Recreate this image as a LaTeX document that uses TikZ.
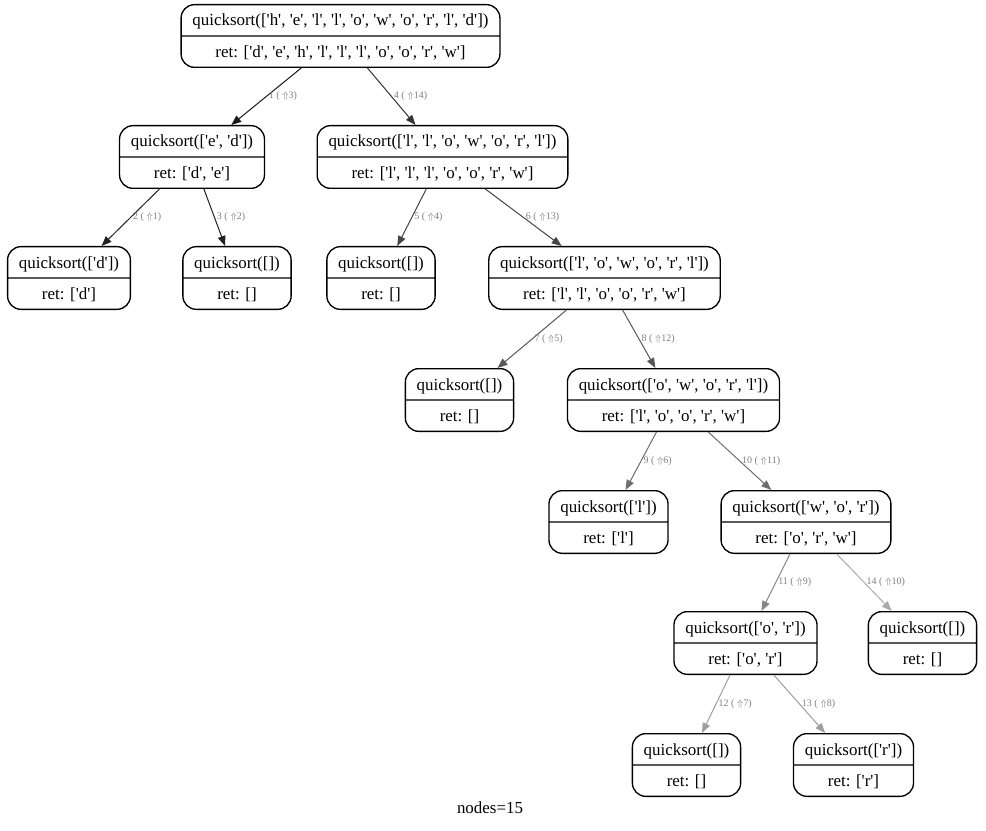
\documentclass[tikz,border=0pt]{standalone}
\usepackage{fontspec}
\setmainfont{Liberation Serif}[Ligatures=TeXOff]
\usetikzlibrary{arrows.meta,shapes.multipart}
\definecolor{lblgray}{HTML}{808080}
\tikzset{
  call/.style={
    rectangle split,rectangle split parts=2,draw=black,line width=1pt,
    rounded corners=10pt,inner xsep=8.5pt,inner ysep=0pt,
    font=\fontsize{12.7}{15}\selectfont
  },
  edge/.style={line width=0.75pt,-{Triangle[length=7.5pt,width=5.8pt]}},
  lbl/.style={font=\fontsize{7.5}{9}\selectfont,text=lblgray,anchor=west,
    inner sep=1.5pt,midway}
}
\newcommand{\ps}{\rule[-7pt]{0pt}{22.5pt}}

\begin{document}
\begin{tikzpicture}[x=0.75pt,y=-0.75pt]
\useasboundingbox (0,0) rectangle (986,831);

% call tree, one record per call
\node[call] (root) at (340.5,36) {\ps quicksort(['h', 'e', 'l', 'l', 'o', 'w', 'o', 'r', 'l', 'd'])
  \nodepart{two}\ps ret: ['d', 'e', 'h', 'l', 'l', 'l', 'o', 'o', 'r', 'w']};
\node[call] (ed) at (192,157) {\ps quicksort(['e', 'd'])
  \nodepart{two}\ps ret: ['d', 'e']};
\node[call] (llow) at (442.5,157) {\ps quicksort(['l', 'l', 'o', 'w', 'o', 'r', 'l'])
  \nodepart{two}\ps ret: ['l', 'l', 'l', 'o', 'o', 'r', 'w']};
\node[call] (d) at (69,278) {\ps quicksort(['d'])
  \nodepart{two}\ps ret: ['d']};
\node[call] (nilA) at (237,278) {\ps quicksort([])
  \nodepart{two}\ps ret: []};
\node[call] (nilB) at (381,278) {\ps quicksort([])
  \nodepart{two}\ps ret: []};
\node[call] (low) at (604.5,278) {\ps quicksort(['l', 'o', 'w', 'o', 'r', 'l'])
  \nodepart{two}\ps ret: ['l', 'l', 'o', 'o', 'r', 'w']};
\node[call] (nilC) at (459.5,400) {\ps quicksort([])
  \nodepart{two}\ps ret: []};
\node[call] (owo) at (673.5,400) {\ps quicksort(['o', 'w', 'o', 'r', 'l'])
  \nodepart{two}\ps ret: ['l', 'o', 'o', 'r', 'w']};
\node[call] (l) at (608.5,522) {\ps quicksort(['l'])
  \nodepart{two}\ps ret: ['l']};
\node[call] (wor) at (806,522) {\ps quicksort(['w', 'o', 'r'])
  \nodepart{two}\ps ret: ['o', 'r', 'w']};
\node[call] (or) at (745.5,643) {\ps quicksort(['o', 'r'])
  \nodepart{two}\ps ret: ['o', 'r']};
\node[call] (nilD) at (922.5,643) {\ps quicksort([])
  \nodepart{two}\ps ret: []};
\node[call] (nilE) at (686.5,765) {\ps quicksort([])
  \nodepart{two}\ps ret: []};
\node[call] (r) at (853.5,765) {\ps quicksort(['r'])
  \nodepart{two}\ps ret: ['r']};

\foreach \a/\b/\n/\u/\c in {
  root/ed/1/3/black!90,
  ed/d/2/1/black!87,
  ed/nilA/3/2/black!87,
  root/llow/4/14/black!80,
  llow/nilB/5/4/black!73,
  llow/low/6/13/black!73,
  low/nilC/7/5/black!66,
  low/owo/8/12/black!66,
  owo/l/9/6/black!57,
  owo/wor/10/11/black!57,
  wor/or/11/9/black!47,
  or/nilE/12/7/black!38,
  or/r/13/8/black!38,
  wor/nilD/14/10/black!33} {
  \draw[edge,draw=\c] (\a) -- node[lbl] {\n\ ( $\Uparrow$\u)} (\b);
}

\node[font=\fontsize{12.7}{15}\selectfont] (count) at (490,808) {nodes=15};

\end{tikzpicture}
\end{document}
